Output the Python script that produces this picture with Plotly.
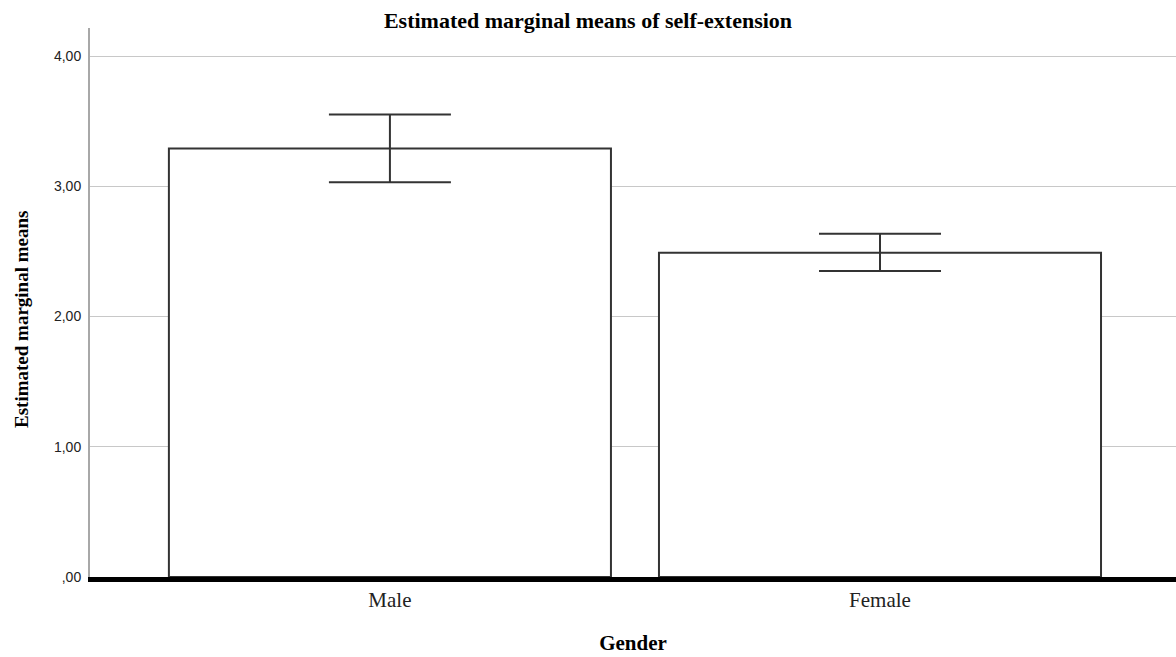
import plotly.graph_objects as go

# Estimated marginal means of self-extension by gender, with 95% CI
genders = ["Male", "Female"]
means = [3.29, 2.49]
ci_lower = [3.03, 2.35]
ci_upper = [3.55, 2.635]

y_tick_vals = [0, 1, 2, 3, 4]
y_tick_text = [",00", "1,00", "2,00", "3,00", "4,00"]

x_pos = list(range(len(genders)))
err_plus = [u - m for u, m in zip(ci_upper, means)]
err_minus = [m - l for m, l in zip(means, ci_lower)]

W, H = 1176, 657
serif = "Liberation Serif, Times New Roman, serif"

fig = go.Figure()
fig.add_trace(go.Bar(
    x=x_pos,
    y=means,
    width=0.902,
    marker=dict(color="white", line=dict(color="#333333", width=2)),
    error_y=dict(
        type="data",
        symmetric=False,
        array=err_plus,
        arrayminus=err_minus,
        color="#333333",
        thickness=2,
        width=61,
    ),
    showlegend=False,
    hoverinfo="skip",
))

# Vertical axis title, placed a little below the plot-area midpoint
fig.add_annotation(
    text="<b>Estimated marginal means</b>",
    xref="paper", yref="paper",
    x=(21 - 90) / (W - 90),
    y=(577 - 320) / (577 - 28),
    xanchor="center", yanchor="middle",
    textangle=-90,
    showarrow=False,
    font=dict(family=serif, size=19, color="black"),
)

fig.update_layout(
    width=W,
    height=H,
    margin=dict(l=90, r=0, t=28, b=80),
    paper_bgcolor="white",
    plot_bgcolor="white",
    title=dict(
        text="<b>Estimated marginal means of self-extension</b>",
        font=dict(family=serif, size=22, color="black"),
        x=0.5,
        xanchor="center",
        y=1 - 20 / H,
        yanchor="middle",
    ),
    xaxis=dict(
        range=[-0.612, 1.604],
        tickvals=x_pos,
        ticktext=genders,
        tickfont=dict(family=serif, size=21, color="#222222"),
        showgrid=False,
        zeroline=False,
        showline=True,
        linecolor="black",
        linewidth=5,
        ticks="",
        title=dict(
            text="<b>Gender</b>",
            font=dict(family=serif, size=21, color="black"),
            standoff=26,
        ),
    ),
    yaxis=dict(
        range=[0, 4.215],
        tickvals=y_tick_vals,
        ticktext=y_tick_text,
        tickfont=dict(family="Liberation Sans, Arial, sans-serif", size=14, color="#222222"),
        showgrid=True,
        gridcolor="#c8c8c8",
        gridwidth=1,
        zeroline=False,
        showline=True,
        linecolor="#a8a8a8",
        linewidth=2,
        ticks="",
        ticklabelstandoff=4,
    ),
)

fig.write_html("out.html")
